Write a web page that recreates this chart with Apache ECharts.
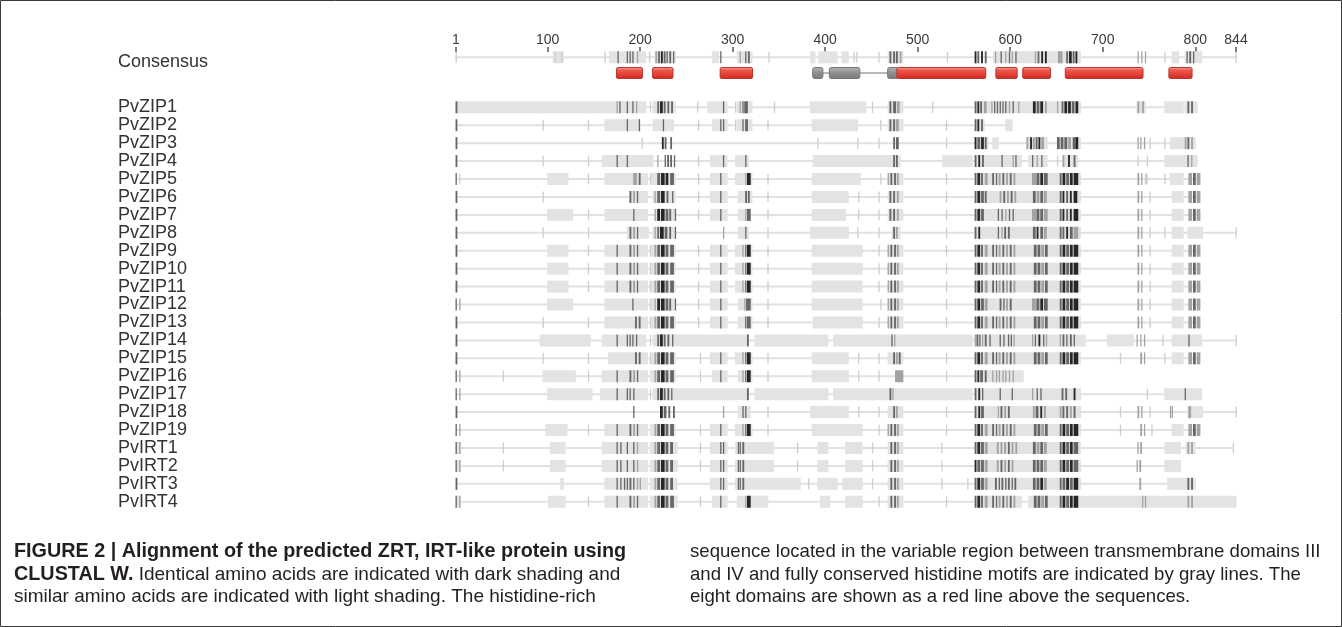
<!DOCTYPE html>
<html>
<head>
<meta charset="utf-8">
<title>ZIP alignment</title>
<script src="https://cdn.jsdelivr.net/npm/echarts@6/dist/echarts.min.js"></script>
<style>
html, body { margin: 0; padding: 0; background: #fff; }
#main { width: 1342px; height: 627px; }
</style>
</head>
<body>
<div id="main"></div>
<script>
// ---- data (residue positions, 1..844) ----
var tickLabels = [1, 100, 200, 300, 400, 500, 600, 700, 800, 844];

var rowNames = ['Consensus',
    'PvZIP1', 'PvZIP2', 'PvZIP3', 'PvZIP4', 'PvZIP5', 'PvZIP6', 'PvZIP7', 'PvZIP8', 'PvZIP9', 'PvZIP10',
    'PvZIP11', 'PvZIP12', 'PvZIP13', 'PvZIP14', 'PvZIP15', 'PvZIP16', 'PvZIP17', 'PvZIP18', 'PvZIP19',
    'PvIRT1', 'PvIRT2', 'PvIRT3', 'PvIRT4'];

var rowSpans = [[1, 844],
    [1, 802], [1, 602], [1, 800], [1, 802], [1, 805], [1, 805], [1, 805], [1, 844], [1, 805], [1, 805],
    [1, 805], [1, 805], [1, 805], [1, 844], [1, 805], [1, 614], [1, 807], [1, 844], [1, 805],
    [1, 841], [1, 784], [1, 800], [1, 844]];

// light shading (similar residues)
var lightBlocks = [
    [[106, 117], [167, 206], [216, 238], [278, 285], [305, 321], [384, 389], [393, 413], [418, 425], [468, 484], [582, 676], [775, 782], [789, 807]],
    [[1, 206], [214, 238], [273, 294], [305, 321], [384, 444], [468, 484], [562, 676], [737, 746], [767, 787], [789, 802]],
    [[162, 200], [214, 236], [278, 294], [305, 321], [386, 435], [468, 484], [562, 572], [595, 602]],
    [[562, 576], [581, 587], [618, 640], [651, 676], [773, 787], [787, 800]],
    [[159, 214], [276, 294], [303, 317], [387, 474], [474, 481], [527, 559], [562, 612], [620, 640], [657, 673], [767, 787], [787, 802]],
    [[100, 122], [162, 208], [211, 238], [276, 294], [303, 321], [386, 438], [468, 484], [562, 676], [773, 787]],
    [[189, 208], [214, 238], [276, 294], [306, 321], [386, 425], [468, 484], [562, 676], [775, 787]],
    [[100, 127], [162, 208], [216, 238], [276, 294], [306, 319], [386, 422], [468, 484], [562, 676], [775, 787]],
    [[186, 209], [214, 238], [306, 317], [384, 425], [472, 481], [562, 676], [775, 787], [792, 808]],
    [[100, 122], [162, 208], [211, 238], [276, 294], [303, 321], [386, 440], [468, 484], [562, 676], [775, 787]],
    [[100, 122], [162, 208], [211, 238], [276, 294], [303, 321], [386, 440], [468, 484], [562, 676], [775, 787]],
    [[100, 122], [162, 208], [211, 238], [276, 294], [303, 321], [386, 440], [468, 484], [562, 676], [775, 787]],
    [[100, 127], [162, 208], [211, 238], [276, 294], [306, 321], [386, 440], [468, 484], [562, 676], [775, 787]],
    [[162, 208], [211, 238], [276, 294], [306, 321], [387, 440], [468, 484], [562, 676], [775, 787]],
    [[92, 146], [159, 206], [214, 236], [236, 316], [324, 403], [409, 559], [562, 681], [705, 733], [775, 807]],
    [[166, 208], [211, 238], [276, 294], [303, 321], [386, 425], [468, 484], [562, 676], [775, 787]],
    [[95, 130], [159, 208], [211, 238], [278, 294], [306, 321], [386, 425], [562, 614]],
    [[100, 148], [157, 208], [214, 236], [236, 316], [324, 403], [409, 559], [562, 676], [767, 807]],
    [[306, 319], [384, 425], [468, 484], [562, 676], [792, 808]],
    [[98, 121], [162, 208], [211, 238], [276, 294], [303, 321], [386, 440], [468, 484], [562, 676], [775, 787]],
    [[1, 6], [103, 119], [159, 208], [211, 240], [276, 294], [303, 344], [392, 403], [422, 440], [468, 484], [562, 676], [767, 784], [790, 800]],
    [[1, 6], [103, 119], [159, 208], [211, 240], [276, 294], [303, 344], [392, 403], [422, 440], [468, 484], [562, 676], [767, 784]],
    [[114, 117], [162, 208], [211, 240], [276, 294], [303, 373], [392, 413], [419, 440], [468, 484], [562, 676], [770, 800]],
    [[1, 6], [101, 119], [162, 208], [211, 240], [278, 294], [305, 338], [395, 405], [422, 440], [468, 484], [562, 612], [620, 844]]
];

// shaded columns [from, to, level]  level 1 = faint tick ... 4 = identical (darkest)
var shadeMarks = [
    [[1, 1, 1], [108, 108, 1], [115, 115, 1], [162, 162, 1], [176, 176, 3], [186, 186, 3], [189, 189, 3], [192, 192, 3], [197, 197, 2], [210, 210, 1],
     [217, 218, 2], [220, 221, 3], [223, 224, 4], [226, 227, 3], [229, 229, 3], [232, 233, 3], [236, 236, 3], [287, 287, 3], [308, 308, 2], [314, 314, 3], [317, 318, 3],
     [339, 339, 1], [431, 431, 1], [434, 434, 1], [458, 458, 1], [470, 471, 3], [474, 475, 3], [477, 478, 3], [481, 482, 2], [532, 532, 1],
     [562, 563, 4], [565, 566, 3], [569, 570, 4], [573, 574, 3], [584, 584, 2], [590, 590, 3], [595, 595, 2], [599, 599, 3], [602, 602, 2], [606, 606, 3],
     [627, 627, 2], [630, 631, 3], [634, 635, 4], [638, 639, 4], [652, 656, 2], [661, 662, 3], [664, 666, 4], [668, 669, 3], [671, 672, 4],
     [738, 738, 2], [742, 742, 2], [746, 746, 2], [767, 767, 1], [791, 791, 3], [794, 795, 3], [798, 798, 3], [844, 844, 1]],
    [[1, 2, 3], [175, 175, 2], [178, 178, 3], [186, 186, 3], [192, 192, 3], [196, 196, 2], [211, 211, 1], [219, 220, 3], [222, 224, 4], [226, 227, 3], [230, 231, 3], [234, 235, 3],
     [262, 262, 1], [290, 290, 3], [303, 303, 1], [308, 308, 2], [311, 311, 3], [313, 316, 3], [345, 345, 1], [451, 451, 1], [470, 471, 3], [474, 476, 3], [478, 480, 2], [516, 516, 1],
     [562, 563, 3], [565, 566, 4], [568, 569, 3], [572, 574, 2], [580, 580, 2], [583, 583, 3], [586, 586, 3], [589, 589, 3], [592, 592, 3], [595, 595, 3], [599, 599, 2], [603, 603, 3], [609, 609, 2],
     [625, 627, 4], [629, 631, 3], [633, 635, 4], [638, 639, 2], [651, 651, 2], [656, 657, 3], [659, 661, 4], [663, 665, 4], [667, 669, 3], [671, 673, 4],
     [738, 739, 2], [743, 744, 2], [792, 793, 3], [796, 797, 3]],
    [[1, 2, 3], [95, 95, 1], [144, 144, 1], [186, 186, 3], [199, 199, 3], [225, 225, 3], [263, 263, 1], [287, 287, 3], [290, 290, 3], [303, 303, 1], [311, 311, 3], [314, 316, 3],
     [338, 338, 1], [460, 460, 1], [470, 471, 3], [474, 475, 3], [477, 479, 2], [531, 531, 1], [562, 563, 3], [565, 566, 4], [569, 570, 3]],
    [[1, 2, 3], [202, 202, 1], [224, 225, 4], [227, 228, 3], [233, 234, 3], [392, 392, 1], [435, 435, 1], [458, 458, 1], [474, 475, 3], [477, 479, 3], [531, 531, 1],
     [562, 563, 4], [565, 567, 3], [569, 571, 4], [573, 574, 3], [618, 619, 2], [622, 623, 4], [625, 626, 2], [628, 629, 3], [631, 632, 4], [634, 636, 2],
     [651, 653, 3], [655, 657, 3], [659, 661, 3], [663, 665, 2], [668, 670, 3], [671, 673, 4], [738, 738, 2], [741, 741, 2], [745, 745, 2], [751, 751, 1], [767, 767, 1],
     [789, 790, 2], [792, 793, 3], [796, 797, 2]],
    [[1, 2, 3], [95, 95, 1], [144, 144, 1], [175, 175, 3], [186, 186, 3], [219, 219, 2], [227, 227, 3], [230, 230, 4], [233, 234, 3], [237, 237, 3], [263, 263, 1], [290, 290, 3], [314, 314, 3],
     [474, 475, 3], [477, 478, 3], [562, 563, 3], [566, 567, 4], [570, 571, 3], [591, 591, 3], [603, 603, 2], [606, 606, 3], [624, 624, 3], [629, 629, 2], [634, 634, 3], [651, 651, 1],
     [657, 658, 2], [663, 664, 4], [669, 670, 3], [738, 738, 1], [748, 748, 1], [792, 792, 3], [796, 796, 2]],
    [[1, 1, 3], [5, 5, 1], [144, 144, 1], [193, 196, 2], [199, 200, 3], [211, 211, 1], [219, 221, 3], [223, 226, 4], [228, 230, 4], [233, 236, 3], [263, 263, 1], [287, 287, 3], [314, 314, 2], [316, 319, 4],
     [338, 338, 1], [460, 460, 1], [468, 468, 2], [471, 472, 3], [475, 476, 3], [478, 479, 2], [531, 531, 1],
     [562, 563, 3], [565, 567, 4], [569, 570, 3], [573, 575, 2], [581, 582, 3], [585, 585, 3], [588, 589, 2], [592, 593, 3], [596, 597, 2], [600, 601, 3], [604, 605, 2],
     [624, 628, 2], [629, 631, 3], [633, 635, 4], [637, 640, 3], [654, 655, 3], [657, 659, 4], [661, 663, 3], [665, 667, 4], [669, 673, 4],
     [738, 739, 2], [742, 742, 2], [746, 748, 1], [767, 767, 1], [793, 796, 2], [798, 800, 3], [802, 805, 2]],
    [[1, 2, 3], [95, 95, 1], [189, 190, 3], [193, 194, 2], [197, 197, 3], [216, 216, 2], [219, 221, 3], [223, 226, 4], [229, 230, 3], [235, 235, 3], [263, 263, 1], [287, 287, 3], [314, 315, 3], [317, 318, 3],
     [338, 338, 1], [436, 436, 1], [458, 458, 1], [470, 471, 3], [474, 475, 3], [478, 479, 2], [531, 531, 1],
     [562, 563, 3], [565, 567, 4], [569, 571, 3], [573, 574, 3], [589, 590, 2], [593, 594, 3], [597, 598, 2], [601, 602, 3], [605, 606, 2],
     [625, 627, 3], [629, 631, 2], [633, 635, 3], [637, 639, 2], [654, 655, 3], [657, 658, 4], [661, 662, 3], [665, 666, 4], [669, 672, 4],
     [738, 739, 2], [742, 742, 2], [751, 751, 1], [793, 796, 2], [798, 800, 3], [802, 805, 2]],
    [[1, 2, 3], [144, 144, 1], [193, 193, 3], [216, 216, 2], [219, 221, 4], [223, 226, 4], [228, 230, 3], [232, 233, 3], [238, 238, 3], [263, 263, 1], [287, 287, 3], [314, 314, 2], [316, 319, 3],
     [338, 338, 1], [436, 436, 1], [458, 458, 1], [470, 471, 3], [474, 475, 3], [478, 479, 2], [531, 531, 1],
     [562, 563, 3], [565, 567, 4], [569, 571, 3], [587, 587, 3], [591, 591, 3], [595, 595, 2], [599, 599, 3], [603, 603, 3],
     [624, 628, 2], [629, 631, 3], [633, 635, 3], [637, 640, 2], [654, 655, 3], [657, 658, 4], [661, 662, 3], [665, 666, 4], [669, 673, 4],
     [738, 739, 2], [742, 742, 2], [751, 751, 1], [793, 796, 2], [798, 800, 3], [802, 805, 2]],
    [[1, 2, 3], [95, 95, 1], [144, 144, 1], [189, 190, 3], [193, 194, 2], [197, 197, 3], [216, 216, 2], [219, 220, 3], [222, 225, 4], [227, 229, 3], [232, 233, 3], [238, 238, 3],
     [290, 290, 2], [314, 314, 3], [338, 338, 1], [435, 435, 1], [458, 458, 1], [474, 475, 3], [477, 478, 2], [531, 531, 1],
     [562, 563, 3], [566, 567, 4], [587, 587, 3], [591, 591, 2], [594, 595, 3], [598, 599, 3], [625, 627, 3], [629, 630, 4], [633, 635, 3], [637, 639, 2],
     [654, 655, 3], [657, 658, 3], [661, 662, 4], [665, 667, 3], [669, 673, 2], [738, 739, 2], [742, 742, 2], [751, 751, 1], [767, 767, 1], [844, 844, 1]],
    [[1, 2, 3], [144, 144, 1], [175, 175, 3], [189, 190, 3], [193, 194, 2], [197, 197, 3], [211, 211, 1], [216, 217, 2], [219, 221, 3], [223, 226, 4], [228, 230, 3], [233, 236, 3],
     [263, 263, 1], [287, 287, 3], [311, 311, 2], [314, 314, 3], [316, 319, 4], [338, 338, 1], [458, 458, 1], [468, 468, 2], [471, 472, 3], [475, 476, 3], [478, 479, 2], [531, 531, 1],
     [562, 563, 3], [565, 567, 4], [569, 570, 3], [573, 575, 2], [581, 582, 3], [585, 585, 3], [588, 589, 2], [592, 593, 3], [596, 597, 2], [600, 601, 3], [604, 605, 2],
     [626, 628, 3], [630, 632, 3], [634, 636, 2], [638, 640, 3], [654, 655, 3], [657, 659, 4], [661, 663, 3], [665, 667, 4], [669, 673, 4],
     [738, 739, 2], [742, 742, 2], [751, 751, 1], [793, 796, 2], [798, 800, 3], [802, 805, 2]],
    [[1, 2, 3], [144, 144, 1], [175, 175, 3], [189, 190, 3], [193, 194, 2], [197, 197, 3], [211, 211, 1], [216, 217, 2], [219, 221, 3], [223, 226, 4], [228, 230, 3], [233, 236, 3],
     [263, 263, 1], [287, 287, 3], [311, 311, 2], [314, 314, 3], [316, 319, 4], [338, 338, 1], [458, 458, 1], [468, 468, 2], [471, 472, 3], [475, 476, 3], [478, 479, 2], [531, 531, 1],
     [562, 563, 3], [565, 567, 4], [569, 570, 3], [573, 575, 2], [581, 582, 3], [585, 585, 3], [588, 589, 2], [592, 593, 3], [596, 597, 2], [600, 601, 3], [604, 605, 2],
     [626, 628, 3], [630, 632, 3], [634, 636, 2], [638, 640, 3], [654, 655, 3], [657, 659, 4], [661, 663, 3], [665, 667, 4], [669, 673, 4],
     [738, 739, 2], [742, 742, 2], [751, 751, 1], [793, 796, 2], [798, 800, 3], [802, 805, 2]],
    [[1, 2, 3], [144, 144, 1], [175, 175, 3], [189, 190, 3], [193, 194, 2], [197, 197, 3], [211, 211, 1], [216, 217, 2], [219, 221, 3], [223, 226, 4], [228, 230, 3], [233, 236, 3],
     [263, 263, 1], [287, 287, 3], [311, 311, 2], [314, 314, 3], [316, 319, 4], [338, 338, 1], [458, 458, 1], [468, 468, 2], [471, 472, 3], [475, 476, 3], [478, 479, 2], [531, 531, 1],
     [562, 563, 3], [565, 567, 4], [569, 570, 3], [573, 575, 2], [581, 582, 3], [585, 585, 3], [588, 589, 2], [592, 593, 3], [596, 597, 2], [600, 601, 3], [604, 605, 2],
     [626, 628, 3], [630, 632, 3], [634, 636, 2], [638, 640, 3], [654, 655, 3], [657, 659, 4], [661, 663, 3], [665, 667, 4], [669, 673, 4],
     [738, 739, 2], [742, 742, 2], [751, 751, 1], [793, 796, 2], [798, 800, 3], [802, 805, 2]],
    [[1, 1, 3], [5, 5, 2], [192, 192, 3], [211, 211, 1], [216, 216, 2], [219, 221, 4], [223, 226, 4], [228, 230, 3], [232, 233, 3], [238, 238, 3], [263, 263, 1], [287, 287, 3], [313, 313, 2], [315, 319, 3],
     [338, 338, 1], [460, 460, 1], [468, 468, 2], [471, 472, 3], [475, 476, 3], [478, 479, 2], [531, 531, 1],
     [562, 563, 3], [565, 567, 4], [569, 571, 3], [573, 575, 2], [589, 590, 3], [593, 593, 3], [596, 597, 2], [600, 601, 3],
     [624, 628, 2], [629, 631, 3], [633, 635, 4], [637, 640, 3], [654, 655, 3], [657, 659, 4], [661, 663, 3], [665, 667, 4], [669, 673, 4],
     [738, 739, 2], [742, 742, 2], [751, 751, 1], [793, 796, 2], [798, 800, 3], [802, 805, 2]],
    [[1, 2, 3], [95, 95, 1], [144, 144, 1], [195, 196, 3], [199, 200, 3], [211, 211, 1], [216, 217, 2], [219, 221, 3], [223, 226, 4], [228, 230, 3], [233, 236, 3],
     [263, 263, 1], [287, 287, 3], [314, 314, 3], [316, 319, 3], [338, 338, 1], [458, 458, 1], [468, 468, 2], [471, 472, 3], [475, 476, 3], [478, 479, 2], [531, 531, 1],
     [562, 563, 3], [565, 567, 4], [569, 570, 3], [573, 575, 2], [581, 582, 3], [585, 585, 3], [588, 589, 2], [592, 593, 3], [596, 597, 2], [600, 601, 3], [604, 605, 2],
     [626, 628, 3], [630, 632, 3], [634, 636, 2], [638, 640, 3], [654, 655, 3], [657, 659, 4], [661, 663, 3], [665, 667, 4], [669, 673, 4],
     [738, 739, 2], [742, 742, 2], [751, 751, 1], [793, 796, 2], [798, 800, 3], [802, 805, 2]],
    [[1, 2, 3], [175, 175, 3], [186, 186, 3], [189, 189, 3], [192, 192, 3], [196, 196, 3], [211, 211, 1], [219, 220, 3], [222, 224, 4], [226, 227, 3], [230, 231, 3], [235, 235, 3], [316, 317, 3],
     [472, 472, 3], [475, 475, 2], [562, 562, 2], [564, 565, 3], [567, 567, 3], [570, 570, 2], [573, 574, 3], [578, 578, 3], [589, 589, 3], [593, 593, 3], [598, 598, 3], [601, 601, 3], [604, 604, 2],
     [624, 624, 2], [627, 627, 3], [631, 632, 4], [636, 636, 3], [639, 639, 2], [654, 654, 2], [657, 658, 3], [661, 661, 3], [665, 666, 3], [669, 669, 3],
     [737, 737, 2], [741, 741, 2], [745, 745, 2], [765, 765, 1], [793, 793, 3], [844, 844, 1]],
    [[1, 2, 3], [95, 95, 1], [144, 144, 1], [195, 196, 3], [199, 200, 3], [211, 211, 1], [216, 217, 2], [219, 221, 3], [223, 226, 4], [228, 230, 3], [233, 236, 3],
     [265, 265, 1], [287, 287, 3], [311, 311, 2], [314, 314, 3], [316, 319, 4], [338, 338, 1], [436, 436, 1], [458, 458, 1], [474, 475, 3], [477, 478, 2], [480, 481, 3], [531, 531, 1],
     [562, 563, 3], [565, 567, 4], [569, 570, 3], [573, 575, 2], [581, 582, 3], [585, 585, 3], [588, 589, 2], [592, 593, 3], [596, 597, 2], [600, 601, 3], [604, 605, 2],
     [626, 628, 3], [630, 632, 3], [634, 636, 2], [638, 640, 3], [654, 655, 3], [657, 659, 4], [661, 663, 3], [665, 667, 4], [669, 673, 4],
     [719, 719, 1], [741, 742, 2], [745, 745, 2], [767, 767, 1], [793, 796, 2], [798, 800, 3], [802, 805, 2]],
    [[1, 1, 3], [5, 5, 2], [52, 52, 1], [144, 144, 1], [175, 175, 3], [189, 190, 3], [193, 194, 2], [197, 197, 3], [216, 217, 2], [219, 221, 3], [223, 226, 4], [228, 230, 3], [233, 236, 3],
     [265, 265, 1], [287, 287, 3], [311, 311, 2], [314, 314, 3], [316, 319, 4], [338, 338, 1], [436, 436, 1], [458, 458, 1], [476, 484, 2], [531, 531, 1],
     [562, 563, 3], [565, 566, 4], [568, 570, 3], [573, 574, 3], [581, 581, 2], [585, 585, 2], [588, 588, 2], [592, 592, 2], [595, 595, 2], [599, 599, 2], [603, 603, 2]],
    [[1, 1, 3], [5, 5, 2], [175, 175, 3], [186, 186, 3], [189, 189, 3], [193, 193, 3], [211, 211, 1], [219, 220, 3], [222, 224, 4], [226, 227, 3], [230, 231, 3], [234, 234, 3], [316, 317, 3],
     [470, 471, 3], [473, 473, 2], [562, 563, 3], [566, 567, 4], [570, 570, 3], [589, 589, 3], [602, 602, 3], [624, 624, 2], [629, 629, 3], [633, 633, 3],
     [656, 657, 3], [660, 661, 3], [669, 670, 4], [748, 748, 1], [789, 789, 3]],
    [[1, 2, 3], [193, 193, 3], [222, 224, 4], [226, 228, 3], [231, 232, 3], [236, 237, 3], [290, 290, 2], [311, 311, 3], [314, 314, 3], [338, 338, 1], [436, 436, 1], [458, 458, 1],
     [474, 475, 3], [477, 478, 2], [531, 531, 1], [562, 563, 3], [566, 567, 4], [569, 571, 3], [587, 587, 2], [590, 591, 3], [594, 595, 2], [598, 599, 3],
     [625, 626, 2], [628, 630, 3], [633, 634, 4], [637, 638, 2], [654, 655, 2], [657, 658, 3], [661, 662, 3], [665, 666, 2], [669, 670, 3],
     [719, 719, 1], [738, 739, 2], [742, 742, 2], [751, 751, 1], [773, 773, 2], [775, 775, 2], [793, 795, 2], [844, 844, 1]],
    [[1, 1, 3], [5, 5, 2], [144, 144, 1], [175, 175, 3], [189, 190, 3], [193, 194, 2], [197, 197, 3], [216, 217, 2], [219, 221, 3], [223, 226, 4], [228, 230, 3], [233, 236, 3],
     [265, 265, 1], [287, 287, 3], [311, 311, 2], [314, 314, 3], [316, 319, 4], [338, 338, 1], [458, 458, 1], [468, 468, 2], [471, 472, 3], [475, 476, 3], [478, 479, 2], [531, 531, 1],
     [562, 563, 3], [565, 567, 4], [569, 570, 3], [573, 575, 2], [581, 582, 3], [585, 585, 3], [588, 589, 2], [592, 593, 3], [596, 597, 2], [600, 601, 3], [604, 605, 2],
     [626, 628, 3], [630, 632, 3], [634, 636, 2], [638, 640, 3], [654, 655, 3], [657, 659, 4], [661, 663, 3], [665, 667, 4], [669, 673, 4],
     [719, 719, 1], [741, 742, 2], [745, 745, 2], [753, 753, 1], [793, 796, 2], [798, 800, 3], [802, 805, 2]],
    [[1, 1, 3], [5, 5, 2], [52, 52, 1], [175, 175, 3], [179, 179, 3], [186, 186, 3], [193, 193, 3], [197, 197, 2], [216, 217, 2], [219, 221, 3], [223, 226, 4], [228, 230, 3], [233, 235, 3],
     [265, 265, 1], [287, 287, 3], [290, 290, 3], [306, 306, 3], [308, 308, 3], [311, 312, 3], [370, 370, 1], [451, 451, 1], [471, 472, 3], [475, 476, 3], [478, 479, 2], [526, 526, 1],
     [562, 563, 3], [565, 567, 4], [569, 571, 3], [573, 575, 2], [586, 587, 2], [590, 591, 2], [594, 595, 2], [598, 599, 3], [602, 603, 2], [606, 607, 2],
     [625, 627, 3], [629, 631, 2], [633, 635, 3], [637, 639, 2], [654, 655, 3], [657, 659, 4], [661, 663, 3], [665, 667, 4], [669, 673, 3],
     [738, 738, 2], [741, 742, 2], [792, 793, 2], [796, 797, 2], [841, 841, 1]],
    [[1, 1, 3], [5, 5, 2], [52, 52, 1], [175, 175, 3], [179, 179, 3], [186, 186, 3], [193, 193, 3], [197, 197, 2], [216, 217, 2], [219, 221, 3], [223, 226, 4], [228, 230, 3], [233, 235, 3],
     [265, 265, 1], [287, 287, 3], [290, 290, 3], [306, 306, 3], [308, 308, 3], [311, 312, 3], [370, 370, 1], [451, 451, 1], [471, 472, 3], [475, 476, 3], [478, 479, 2], [526, 526, 1],
     [562, 563, 4], [565, 567, 3], [569, 571, 3], [573, 575, 2], [586, 587, 2], [590, 591, 3], [594, 595, 2], [598, 599, 3], [602, 603, 2],
     [625, 627, 3], [629, 631, 3], [633, 635, 3], [637, 639, 2], [654, 655, 3], [657, 659, 4], [661, 663, 3], [665, 667, 4], [669, 673, 3],
     [737, 737, 2], [740, 741, 2]],
    [[1, 2, 3], [175, 175, 3], [179, 179, 3], [183, 183, 3], [186, 186, 3], [189, 190, 3], [193, 193, 3], [197, 197, 2], [200, 200, 2], [216, 217, 2], [219, 221, 3], [223, 226, 4], [228, 230, 3], [233, 235, 3],
     [287, 287, 3], [290, 290, 3], [306, 306, 3], [308, 308, 3], [311, 312, 3], [382, 382, 1], [451, 451, 1], [471, 472, 3], [475, 476, 3], [478, 479, 2], [526, 526, 1], [554, 554, 1],
     [562, 563, 3], [565, 567, 4], [569, 571, 3], [573, 575, 2], [584, 585, 3], [588, 588, 3], [591, 592, 3], [595, 595, 3], [598, 599, 3], [602, 602, 3], [605, 606, 3],
     [625, 627, 3], [629, 631, 3], [633, 635, 4], [637, 639, 2], [654, 655, 3], [657, 659, 3], [661, 663, 4], [665, 667, 3], [669, 673, 4],
     [740, 741, 2], [792, 793, 3], [796, 797, 3]],
    [[1, 1, 3], [5, 5, 2], [144, 144, 1], [175, 175, 3], [189, 190, 3], [193, 194, 2], [197, 197, 3], [216, 217, 2], [219, 221, 3], [223, 226, 4], [228, 230, 3], [233, 236, 3],
     [265, 265, 1], [287, 287, 3], [314, 314, 2], [316, 319, 4], [458, 458, 1], [471, 472, 3], [475, 476, 3], [478, 479, 2], [531, 531, 1],
     [562, 563, 3], [565, 567, 4], [569, 570, 3], [573, 575, 2], [581, 582, 3], [585, 585, 3], [588, 589, 2], [592, 593, 3], [596, 597, 2], [600, 601, 3], [604, 605, 2],
     [626, 628, 3], [630, 632, 3], [634, 636, 2], [638, 640, 3], [654, 655, 3], [657, 659, 4], [661, 663, 3], [665, 667, 4], [669, 673, 4],
     [743, 743, 2], [746, 746, 2], [792, 793, 2], [796, 797, 2]]
];

// transmembrane domains (red) and the gray domain boxes on the consensus
var redDomains = [[175, 202], [214, 235], [287, 321], [478, 573], [585, 607], [614, 643], [660, 743], [772, 796]];
var grayDomains = [[387, 397], [405, 437], [468, 478]];
var domainLinks = [[397, 405], [437, 468]];

// ---- layout ----
var ROW_H = 17.93;          // px between sequence rows
var ROW0_Y = 107.3;         // pixel y of PvZIP1
var AXIS_Y = 52;            // pixel y of the top axis
var CONS_Y = 57.3;          // pixel y of consensus line
var DOMAIN_Y = 73;          // pixel y of the domain bar
var CH_H = 627;

var consPos = (CONS_Y - ROW0_Y) / ROW_H;
var domPos = (DOMAIN_Y - ROW0_Y) / ROW_H;
var yMin = (AXIS_Y - ROW0_Y) / ROW_H;
var yMax = 22.5;
var gridBottom = CH_H - (ROW0_Y + yMax * ROW_H);

function rowPos(i) { return i === 0 ? consPos : i - 1; }

// kinds: 0 row line, 1 light block, 2..5 shade level 1..4, 6 red domain, 7 gray domain, 8 domain link
var data = [];
rowSpans.forEach(function (sp, i) { data.push([0, rowPos(i), sp[0], sp[1]]); });
lightBlocks.forEach(function (list, i) {
    list.forEach(function (b) { data.push([1, rowPos(i), b[0], b[1]]); });
});
[1, 2, 3, 4].forEach(function (lvl) {
    shadeMarks.forEach(function (list, i) {
        list.forEach(function (m) { if (m[2] === lvl) data.push([1 + lvl, rowPos(i), m[0], m[1]]); });
    });
});
domainLinks.forEach(function (d) { data.push([8, domPos, d[0], d[1]]); });
grayDomains.forEach(function (d) { data.push([7, domPos, d[0], d[1]]); });
redDomains.forEach(function (d) { data.push([6, domPos, d[0], d[1]]); });

var redFill = new echarts.graphic.LinearGradient(0, 0, 0, 1, [
    {offset: 0, color: '#f7b3a8'},
    {offset: 0.25, color: '#ee5a4e'},
    {offset: 0.7, color: '#e23a30'},
    {offset: 1, color: '#c42a24'}
]);
var grayFill = new echarts.graphic.LinearGradient(0, 0, 0, 1, [
    {offset: 0, color: '#b5b5b5'},
    {offset: 0.5, color: '#8e8e8e'},
    {offset: 1, color: '#7a7a7a'}
]);

var kindStyle = {
    0: {h: 2, style: {fill: '#e1e1e1'}},
    1: {h: 12, style: {fill: '#e3e3e3'}},
    2: {h: 11, style: {fill: '#cdcdcd'}},
    3: {h: 12, style: {fill: '#a3a3a3'}},
    4: {h: 12, style: {fill: '#666666'}},
    5: {h: 12, style: {fill: '#262626'}},
    6: {h: 11, r: 1.5, style: {fill: redFill, stroke: '#b8342c', lineWidth: 1}},
    7: {h: 11, r: 2, style: {fill: grayFill, stroke: '#777', lineWidth: 1}},
    8: {h: 1.2, style: {fill: '#8a8a8a'}}
};

function renderItem(params, api) {
    var kind = api.value(0);
    var y = api.value(1);
    var a = api.coord([api.value(2) - 0.5, y]);
    var b = api.coord([api.value(3) + 0.5, y]);
    var st = kindStyle[kind];
    var w = Math.max(b[0] - a[0], kind >= 2 && kind <= 5 ? 1.3 : 1);
    return {
        type: 'rect',
        shape: {x: a[0], y: a[1] - st.h / 2, width: w, height: st.h, r: st.r || 0},
        style: st.style
    };
}

var labelPos = rowNames.map(function (n, i) { return i === 0 ? consPos + 0.28 : i - 1; });

var chart = echarts.init(document.getElementById('main'), null, {renderer: 'canvas'});
var capFont = '"Liberation Sans", Arial, sans-serif';
var capLeft = [
    '{b|FIGURE 2 | Alignment of the predicted ZRT, IRT-like protein using}',
    '{b|CLUSTAL W.} Identical amino acids are indicated with dark shading and',
    'similar amino acids are indicated with light shading. The histidine-rich'
];
var capRight = [
    'sequence located in the variable region between transmembrane domains III',
    'and IV and fully conserved histidine motifs are indicated by gray lines. The',
    'eight domains are shown as a red line above the sequences.'
];
var capY = [552, 575, 597];
var graphics = [{
    type: 'rect', shape: {x: 0.5, y: 0.5, width: 1341, height: 626},
    style: {fill: null, stroke: '#3a3a3a', lineWidth: 1}, silent: true
}];
capLeft.forEach(function (t, i) {
    graphics.push({type: 'text', x: 14, y: capY[i], style: {
        text: t, fill: '#231f20', font: '19px ' + capFont, verticalAlign: 'middle',
        rich: {b: {fontWeight: 'bold', fontSize: 19.8, fontFamily: capFont, fill: '#231f20'}}
    }});
});
capRight.forEach(function (t, i) {
    graphics.push({type: 'text', x: 690, y: capY[i], style: {
        text: t, fill: '#231f20', font: '18.6px ' + capFont, verticalAlign: 'middle'
    }});
});

var option = {
    backgroundColor: '#fff',
    animation: false,
    grid: {left: 456, right: 106, top: AXIS_Y, bottom: gridBottom},
    xAxis: {
        type: 'value', position: 'top', min: 1, max: 844,
        axisLine: {show: false, onZero: false},
        splitLine: {show: false},
        axisTick: {show: true, customValues: tickLabels, length: 5, lineStyle: {color: '#555', width: 1.5}},
        axisLabel: {customValues: tickLabels, color: '#3a3a3a', fontSize: 14, margin: 5,
            fontFamily: '"Liberation Sans", Arial, sans-serif'}
    },
    yAxis: {
        type: 'value', inverse: true, min: yMin, max: yMax,
        axisLine: {show: false, onZero: false}, axisTick: {show: false}, splitLine: {show: false},
        axisLabel: {
            customValues: labelPos, align: 'left', margin: 338, color: '#333', fontSize: 18,
            fontFamily: '"Liberation Sans", Arial, sans-serif',
            formatter: function (v) {
                for (var i = 0; i < labelPos.length; i++) {
                    if (Math.abs(labelPos[i] - v) < 0.01) return rowNames[i];
                }
                return '';
            }
        }
    },
    series: [{
        type: 'custom',
        renderItem: renderItem,
        data: data,
        encode: {x: [2, 3], y: 1},
        silent: true
    }],
    graphic: graphics
};
chart.setOption(option);
</script>
</body>
</html>
